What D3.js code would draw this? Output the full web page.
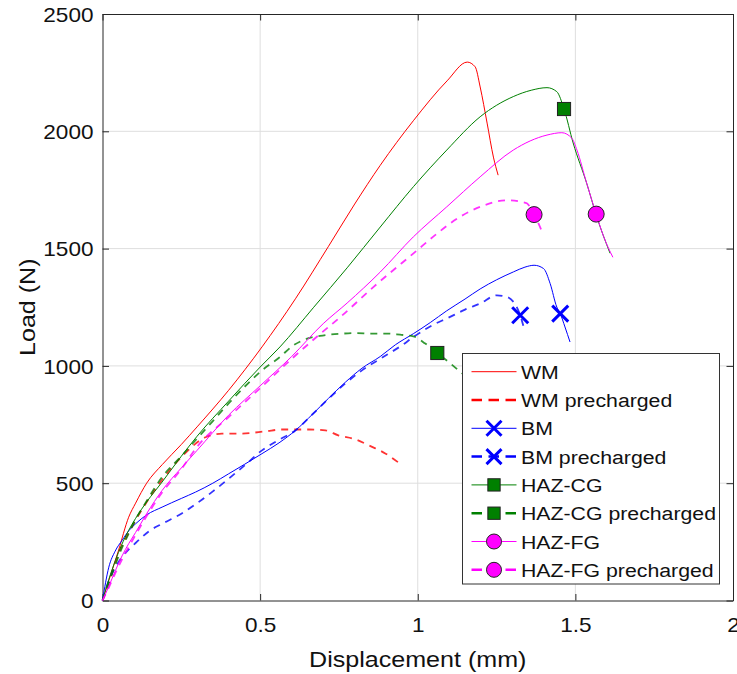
<!DOCTYPE html>
<html>
<head>
<meta charset="utf-8">
<script src="https://cdn.jsdelivr.net/npm/d3@7"></script>
<style>
  body { margin: 0; background: #fff; }
  svg { display: block; font-family: "Liberation Sans", Arial, sans-serif; }
</style>
</head>
<body>
<div id="chart"></div>
<script>
// values: [displacement (mm), load (N)]
const wm = [[0,0],[0.02,85],[0.05,210],[0.083,355],[0.105,415],[0.14,500],[0.19,580],[0.25,665],[0.3,740],[0.4,896],[0.506,1081],[0.612,1286],[0.717,1510],[0.8,1690],[0.881,1855],[0.986,2045],[1.093,2215],[1.157,2295],[1.182,2275],[1.198,2189],[1.22,2035],[1.24,1890],[1.255,1813]];
const wmPre = [[0,0],[0.02,75],[0.05,195],[0.1,330],[0.15,440],[0.205,542],[0.26,625],[0.327,696],[0.379,711],[0.432,711],[0.517,721],[0.569,729],[0.654,729],[0.707,725],[0.748,704],[0.802,687],[0.845,661],[0.897,627],[0.938,589]];
const bm = [[0,0],[0.02,142],[0.04,210],[0.062,256],[0.085,300],[0.105,327],[0.14,365],[0.189,398],[0.25,435],[0.295,462],[0.35,500],[0.4,540],[0.45,580],[0.506,626],[0.56,672],[0.612,725],[0.667,795],[0.717,862],[0.77,930],[0.823,990],[0.881,1040],[0.929,1090],[0.987,1138],[1.04,1185],[1.092,1235],[1.15,1285],[1.198,1328],[1.25,1367],[1.304,1401],[1.34,1421],[1.369,1429],[1.399,1415],[1.42,1351],[1.441,1251],[1.452,1223],[1.467,1166],[1.483,1102]];
const bmPre = [[0,0],[0.02,85],[0.04,140],[0.062,185],[0.085,220],[0.105,245],[0.147,295],[0.189,327],[0.25,370],[0.295,410],[0.35,465],[0.4,519],[0.45,575],[0.506,640],[0.56,685],[0.612,725],[0.667,795],[0.717,860],[0.77,925],[0.823,981],[0.881,1030],[0.95,1088],[0.987,1124],[1.056,1180],[1.092,1202],[1.15,1240],[1.198,1266],[1.251,1301],[1.283,1294],[1.325,1216],[1.338,1155]];
const hazCg = [[0,0],[0.02,90],[0.041,171],[0.06,235],[0.083,299],[0.105,350],[0.14,420],[0.189,505],[0.25,615],[0.3,700],[0.4,850],[0.5,995],[0.563,1081],[0.67,1250],[0.776,1418],[0.881,1592],[0.987,1765],[1.092,1920],[1.198,2062],[1.303,2148],[1.36,2175],[1.41,2186],[1.441,2169],[1.464,2095],[1.493,1950],[1.536,1778],[1.568,1635],[1.61,1480]];
const hazCgPre = [[0,0],[0.02,75],[0.04,150],[0.062,225],[0.083,285],[0.105,345],[0.135,413],[0.189,526],[0.25,615],[0.295,683],[0.35,765],[0.4,840],[0.45,910],[0.506,981],[0.56,1035],[0.606,1088],[0.649,1116],[0.69,1128],[0.765,1138],[0.807,1140],[0.85,1138],[0.902,1138],[0.944,1133],[0.986,1126],[1.024,1095],[1.062,1055],[1.103,1011],[1.141,968],[1.17,935]];
const hazFg = [[0,0],[0.02,60],[0.041,128],[0.062,190],[0.083,242],[0.105,290],[0.14,370],[0.189,469],[0.25,565],[0.3,640],[0.4,790],[0.5,915],[0.6,1040],[0.7,1180],[0.776,1268],[0.881,1400],[0.986,1550],[1.092,1678],[1.198,1806],[1.303,1920],[1.41,1984],[1.457,1994],[1.489,1970],[1.505,1920],[1.536,1778],[1.566,1647],[1.59,1550],[1.619,1463]];
const hazFgPre = [[0,0],[0.02,55],[0.041,118],[0.062,175],[0.083,228],[0.105,280],[0.14,360],[0.189,460],[0.25,560],[0.3,655],[0.4,782],[0.5,905],[0.6,1030],[0.685,1130],[0.755,1209],[0.86,1337],[0.992,1486],[1.061,1564],[1.13,1632],[1.198,1678],[1.283,1706],[1.33,1699],[1.346,1693],[1.369,1645],[1.396,1567]];

// marker positions (one per series that carries a marker)
const bmMark = [1.452, 1223];
const bmPreMark = [1.325, 1216];
const hazCgMark = [1.464, 2095];
const hazCgPreMark = [1.062, 1055];
const hazFgMark = [1.566, 1647];
const hazFgPreMark = [1.369, 1645];

const xTicks = [0, 0.5, 1, 1.5, 2];
const yTicks = [0, 500, 1000, 1500, 2000, 2500];
const legendLabels = ["WM", "WM precharged", "BM", "BM precharged", "HAZ-CG", "HAZ-CG precharged", "HAZ-FG", "HAZ-FG precharged"];

const series = [
    { data: wm, color: "#ff0000", dashed: false, marker: null, mark: null },
    { data: wmPre, color: "#ff0000", dashed: true, marker: null, mark: null },
    { data: bm, color: "#0000ff", dashed: false, marker: "x", mark: bmMark },
    { data: bmPre, color: "#0000ff", dashed: true, marker: "x", mark: bmPreMark },
    { data: hazCg, color: "#008000", dashed: false, marker: "square", mark: hazCgMark },
    { data: hazCgPre, color: "#008000", dashed: true, marker: "square", mark: hazCgPreMark },
    { data: hazFg, color: "#ff00ff", dashed: false, marker: "circle", mark: hazFgMark },
    { data: hazFgPre, color: "#ff00ff", dashed: true, marker: "circle", mark: hazFgPreMark }
];

const width = 737, height = 674;
const margin = { left: 102.5, right: 4, top: 14, bottom: 73.5 };
const SX = 1.13; // glyphs in the figure are a bit wider than Liberation Sans

const x = d3.scaleLinear().domain([0, 2]).range([margin.left, width - margin.right]);
const y = d3.scaleLinear().domain([0, 2500]).range([height - margin.bottom, margin.top]);

const svg = d3.select("#chart").append("svg")
    .attr("width", width)
    .attr("height", height)
    .attr("viewBox", `0 0 ${width} ${height}`);

svg.append("rect").attr("width", width).attr("height", height).attr("fill", "#fff");

// grid
const grid = svg.append("g").attr("stroke", "#dedede").attr("stroke-width", 1);
grid.selectAll(".gx").data(xTicks.slice(1, -1)).join("line")
    .attr("x1", d => x(d)).attr("x2", d => x(d))
    .attr("y1", y(0)).attr("y2", y(2500));
grid.selectAll(".gy").data(yTicks.slice(1, -1)).join("line")
    .attr("x1", x(0)).attr("x2", x(2))
    .attr("y1", d => y(d)).attr("y2", d => y(d));

// axes, ticks pointing inward
const axisColor = "#262626";
const styleAxis = g => {
    g.select(".domain").attr("stroke", axisColor);
    g.selectAll(".tick line").attr("stroke", axisColor);
    g.selectAll(".tick text").attr("fill", "#111").attr("font-size", 20);
};

svg.append("g")
    .attr("transform", `translate(0,${y(0)})`)
    .call(d3.axisBottom(x).tickValues(xTicks).tickFormat(d => String(d)).tickSizeInner(-6.5).tickSizeOuter(0))
    .call(styleAxis)
    .call(g => g.selectAll(".tick text").attr("y", 31.5).attr("dy", null)
        .attr("transform", `scale(${SX},1)`));

svg.append("g")
    .attr("transform", `translate(${x(0)},0)`)
    .call(d3.axisLeft(y).tickValues(yTicks).tickFormat(d => String(d)).tickSizeInner(-6.5).tickSizeOuter(0))
    .call(styleAxis)
    .call(g => g.selectAll(".tick text").attr("x", -9 / SX).attr("dy", "0.36em")
        .attr("transform", `scale(${SX},1)`));

svg.append("g")
    .attr("transform", `translate(0,${y(2500)})`)
    .call(d3.axisTop(x).tickValues(xTicks).tickFormat("").tickSizeInner(-6.5).tickSizeOuter(0))
    .call(styleAxis);

svg.append("g")
    .attr("transform", `translate(${x(2)},0)`)
    .call(d3.axisRight(y).tickValues(yTicks).tickFormat("").tickSizeInner(-6.5).tickSizeOuter(0))
    .call(styleAxis);

// axis titles
svg.append("text")
    .attr("transform", `translate(${(x(0) + x(2)) / 2},667) scale(1.14,1)`)
    .attr("text-anchor", "middle")
    .attr("font-size", 22)
    .attr("fill", "#111")
    .text("Displacement (mm)");

svg.append("text")
    .attr("transform", `translate(35,${(y(0) + y(2500)) / 2}) rotate(-90) scale(1.14,1)`)
    .attr("text-anchor", "middle")
    .attr("font-size", 22)
    .attr("fill", "#111")
    .text("Load (N)");

// marker drawing helper
function drawMarker(g, type, color, cx, cy, s) {
    if (type === "x") {
        g.append("path")
            .attr("d", `M${cx - s},${cy - s}L${cx + s},${cy + s}M${cx - s},${cy + s}L${cx + s},${cy - s}`)
            .attr("stroke", color).attr("stroke-width", 3).attr("fill", "none");
    } else if (type === "square") {
        g.append("rect")
            .attr("x", cx - s * 0.82).attr("y", cy - s * 0.82)
            .attr("width", s * 1.64).attr("height", s * 1.64)
            .attr("fill", color).attr("stroke", "#222").attr("stroke-width", 1);
    } else if (type === "circle") {
        g.append("circle")
            .attr("cx", cx).attr("cy", cy).attr("r", s)
            .attr("fill", color).attr("stroke", "#222").attr("stroke-width", 1);
    }
}

// curves
const line = d3.line()
    .x(d => x(d[0]))
    .y(d => y(d[1]))
    .curve(d3.curveMonotoneX);

const plot = svg.append("g");
series.forEach(s => {
    plot.append("path")
        .datum(s.data)
        .attr("d", line)
        .attr("fill", "none")
        .attr("stroke", s.color)
        .attr("stroke-width", s.dashed ? 1.8 : 1)
        .attr("stroke-opacity", s.dashed ? 0.8 : 1)
        .attr("stroke-dasharray", s.dashed ? "7,6" : null);
    if (s.marker) drawMarker(plot, s.marker, s.color, x(s.mark[0]), y(s.mark[1]), 8);
});

// legend
const lg = svg.append("g");
lg.append("rect")
    .attr("x", 462.5).attr("y", 353.5)
    .attr("width", 257).attr("height", 230.5)
    .attr("fill", "#fff")
    .attr("stroke", "#333")
    .attr("stroke-width", 1);

legendLabels.forEach((label, i) => {
    const s = series[i];
    const cy = 371.7 + i * 28.3;
    lg.append("line")
        .attr("x1", 471.5).attr("x2", 516.5)
        .attr("y1", cy).attr("y2", cy)
        .attr("stroke", s.color)
        .attr("stroke-width", s.dashed ? 2.5 : 1)
        .attr("stroke-dasharray", s.dashed ? "10.5,6.5" : null);
    if (s.marker) drawMarker(lg, s.marker, s.color, 494, cy, 7.5);
    lg.append("text")
        .attr("transform", `translate(521,${cy + 7}) scale(1.12,1)`)
        .attr("font-size", 19)
        .attr("fill", "#111")
        .text(label);
});
</script>
</body>
</html>
